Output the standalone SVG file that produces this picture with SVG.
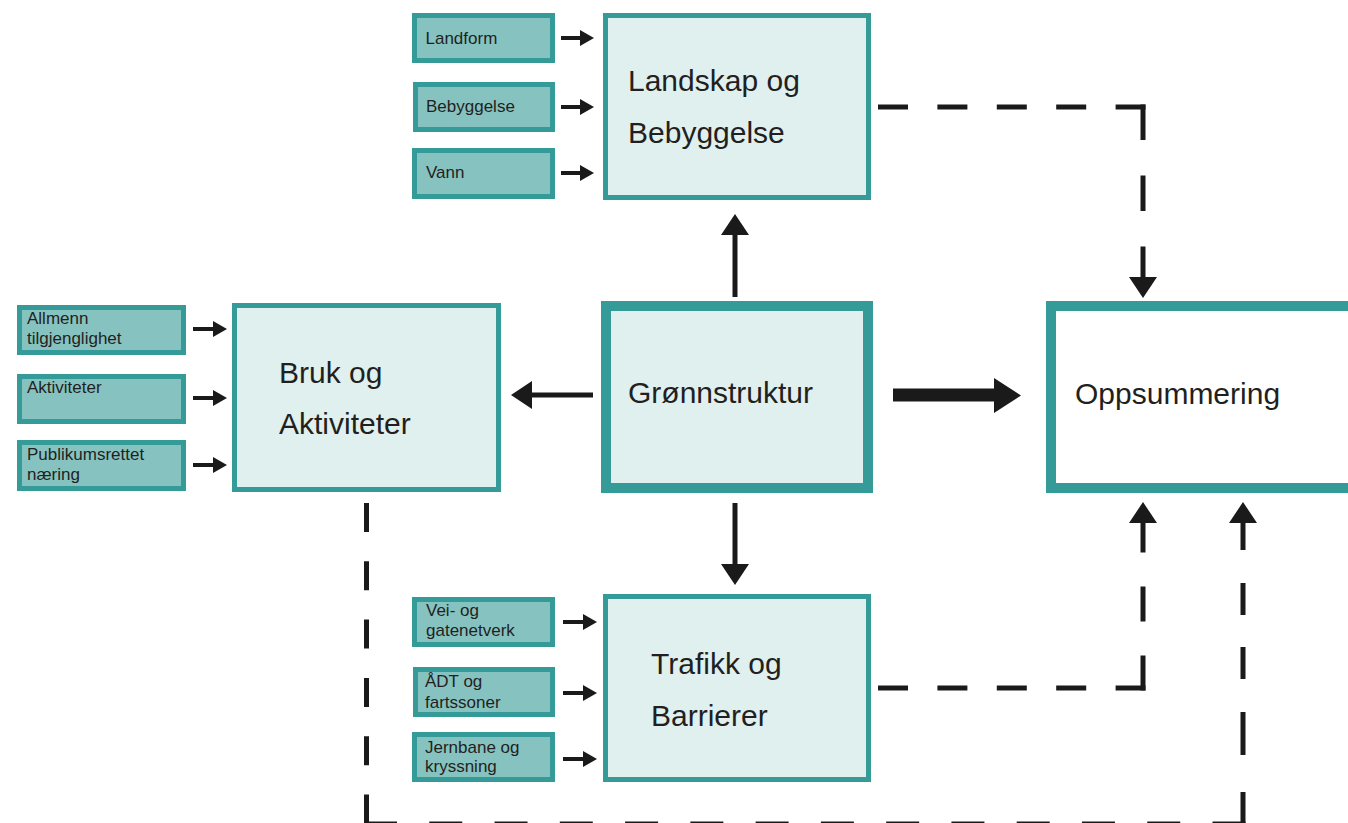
<svg xmlns="http://www.w3.org/2000/svg" width="1348" height="823" viewBox="0 0 1348 823">
<defs>
<style>
.big{fill:#dff0ef;stroke:#359b98;stroke-width:5}
.core{fill:#dff0ef;stroke:#359b98;stroke-width:10}
.sum{fill:#ffffff;stroke:#359b98;stroke-width:10}
.sm{fill:#86c3c0;stroke:#359b98;stroke-width:5}
.t{font-family:"Liberation Sans",Arial,sans-serif;fill:#231f20}
.tl{font-size:30px}
.ts{font-size:17px}
.a{stroke:#1a1a1a;stroke-width:4;fill:none}
.am{stroke:#1a1a1a;stroke-width:5;fill:none}
.d{stroke:#1a1a1a;stroke-width:5;fill:none}
</style>
<marker id="hs" viewBox="0 0 14 16" refX="0" refY="8" markerWidth="14" markerHeight="16" markerUnits="userSpaceOnUse" orient="auto">
<path d="M0,0 L14,8 L0,16 z" fill="#1a1a1a"/>
</marker>
<marker id="hm" viewBox="0 0 21 28" refX="0" refY="14" markerWidth="21" markerHeight="28" markerUnits="userSpaceOnUse" orient="auto">
<path d="M0,0 L21,14 L0,28 z" fill="#1a1a1a"/>
</marker>
</defs>
<rect width="1348" height="823" fill="#ffffff"/>

<g id="landskap">
<rect class="big" x="605.5" y="15.5" width="263" height="182"/>
<text class="t tl" x="628" y="91">Landskap og</text>
<text class="t tl" x="628" y="143">Bebyggelse</text>
</g>
<g id="landform">
<rect class="sm" x="414.5" y="15.5" width="138" height="45"/>
<text class="t ts" x="425.5" y="44">Landform</text>
</g>
<g id="bebyggelse">
<rect class="sm" x="415.5" y="84.5" width="137" height="45"/>
<text class="t ts" x="426" y="112">Bebyggelse</text>
</g>
<g id="vann">
<rect class="sm" x="414.5" y="150.5" width="138" height="46"/>
<text class="t ts" x="426" y="178">Vann</text>
</g>

<g id="bruk">
<rect class="big" x="234.5" y="305.5" width="264" height="184"/>
<text class="t tl" x="279" y="383">Bruk og</text>
<text class="t tl" x="279" y="434">Aktiviteter</text>
</g>
<g id="allmenn">
<rect class="sm" x="19.5" y="307.5" width="164" height="45"/>
<text class="t ts" x="27" y="324">Allmenn</text>
<text class="t ts" x="27" y="344">tilgjenglighet</text>
</g>
<g id="aktiviteter">
<rect class="sm" x="19.5" y="376.5" width="164" height="45"/>
<text class="t ts" x="27" y="393">Aktiviteter</text>
</g>
<g id="publikum">
<rect class="sm" x="19.5" y="442.5" width="164" height="46"/>
<text class="t ts" x="27" y="460">Publikumsrettet</text>
<text class="t ts" x="27" y="480">næring</text>
</g>

<g id="gronnstruktur">
<rect class="core" x="606" y="306" width="262" height="182"/>
<text class="t tl" x="628" y="403">Grønnstruktur</text>
</g>

<g id="oppsummering">
<rect class="sum" x="1051" y="306" width="320" height="182"/>
<text class="t tl" x="1075" y="404">Oppsummering</text>
</g>

<g id="trafikk">
<rect class="big" x="605.5" y="596.5" width="263" height="183"/>
<text class="t tl" x="651" y="674">Trafikk og</text>
<text class="t tl" x="651" y="726">Barrierer</text>
</g>
<g id="vei">
<rect class="sm" x="414.5" y="599.5" width="138" height="45"/>
<text class="t ts" x="426" y="616">Vei- og</text>
<text class="t ts" x="426" y="636">gatenetverk</text>
</g>
<g id="adt">
<rect class="sm" x="415.5" y="669.5" width="137" height="45"/>
<text class="t ts" x="425" y="687">ÅDT og</text>
<text class="t ts" x="425" y="708">fartssoner</text>
</g>
<g id="jernbane">
<rect class="sm" x="414.5" y="734.5" width="138" height="45"/>
<text class="t ts" x="425" y="753">Jernbane og</text>
<text class="t ts" x="425" y="772">kryssning</text>
</g>

<g id="connectors">
<line class="a" x1="561" y1="38" x2="580" y2="38" marker-end="url(#hs)"/>
<line class="a" x1="561" y1="107" x2="580" y2="107" marker-end="url(#hs)"/>
<line class="a" x1="561" y1="173" x2="580" y2="173" marker-end="url(#hs)"/>
<line class="a" x1="193" y1="329" x2="213" y2="329" marker-end="url(#hs)"/>
<line class="a" x1="193" y1="398" x2="213" y2="398" marker-end="url(#hs)"/>
<line class="a" x1="193" y1="465" x2="213" y2="465" marker-end="url(#hs)"/>
<line class="a" x1="563" y1="622" x2="583" y2="622" marker-end="url(#hs)"/>
<line class="a" x1="563" y1="693" x2="583" y2="693" marker-end="url(#hs)"/>
<line class="a" x1="563" y1="759" x2="583" y2="759" marker-end="url(#hs)"/>

<line class="am" x1="735" y1="297" x2="735" y2="235" marker-end="url(#hm)"/>
<line class="am" x1="735" y1="503" x2="735" y2="564" marker-end="url(#hm)"/>
<line class="am" x1="593" y1="395" x2="532" y2="395" marker-end="url(#hm)"/>

<polygon points="893,388.5 994,388.5 994,378 1021,395.5 994,413 994,401.5 893,401.5" fill="#1a1a1a"/>

<path class="d" d="M878,107 H1145.5" stroke-dasharray="30 29.4"/>
<path class="d" d="M1143,104.5 V277" stroke-dasharray="35.5 35.5" marker-end="url(#hm)"/>

<path class="d" d="M878,688 H1145.5" stroke-dasharray="30 29.4"/>
<path class="d" d="M1143,690.5 V523" stroke-dasharray="35 34" marker-end="url(#hm)"/>

<path class="d" d="M366.5,503 V823.5" stroke-dasharray="29 29.3"/>
<path class="d" d="M364,824 H1245.5" stroke-dasharray="33 32.27"/>
<path class="d" d="M1243,826.5 V523" stroke-dasharray="34.5 37 43 33 32 32 32 33 40" marker-end="url(#hm)"/>
</g>
</svg>
